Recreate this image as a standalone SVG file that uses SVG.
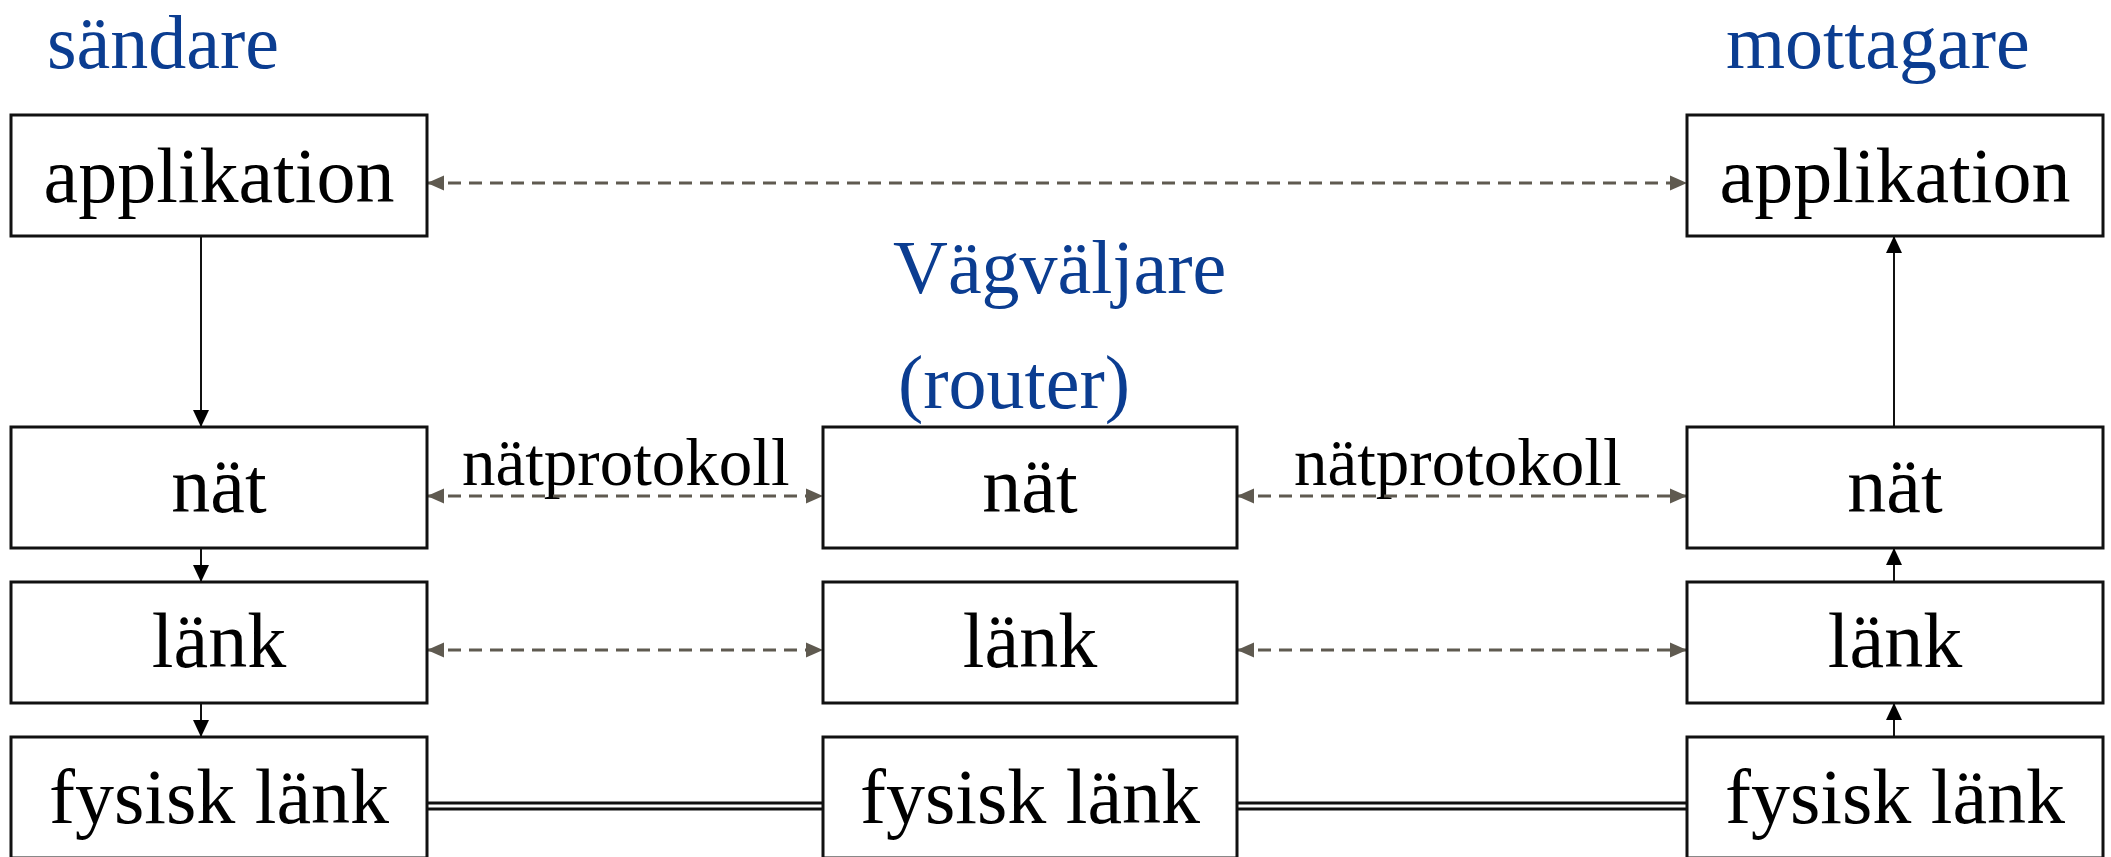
<svg xmlns="http://www.w3.org/2000/svg" width="2111" height="857" viewBox="0 0 2111 857">
<style>
.box{fill:#fff;stroke:#111;stroke-width:3}
.t{font-family:"Liberation Serif","Times New Roman",serif;font-size:78px;fill:#000;text-anchor:middle}
.lbl{font-family:"Liberation Serif","Times New Roman",serif;font-size:76px;fill:#0b3d91}
.proto{font-family:"Liberation Serif","Times New Roman",serif;font-size:67px;fill:#000}
.dash{stroke:#5f5a50;stroke-width:3;stroke-dasharray:13 8;fill:none;marker-start:url(#gs);marker-end:url(#ge)}
.solid{stroke:#111;stroke-width:2;fill:none;marker-end:url(#be)}
.dbl{stroke:#111;stroke-width:3;fill:none}
</style>
<defs>
<marker id="ge" markerUnits="userSpaceOnUse" markerWidth="18" markerHeight="16" refX="17" refY="8" orient="auto"><path d="M0,0.5 L17,8 L0,15.5 Z" fill="#5f5a50"/></marker>
<marker id="gs" markerUnits="userSpaceOnUse" markerWidth="18" markerHeight="16" refX="0" refY="8" orient="auto"><path d="M17,0.5 L0,8 L17,15.5 Z" fill="#5f5a50"/></marker>
<marker id="be" markerUnits="userSpaceOnUse" markerWidth="18" markerHeight="16" refX="17" refY="8" orient="auto"><path d="M0,0 L17,8 L0,16 Z" fill="#000"/></marker>
</defs>
<rect width="2111" height="857" fill="#fff"/>
<g id="labels">
<text class="lbl" x="47" y="68">sändare</text>
<text class="lbl" x="1726" y="68">mottagare</text>
<text class="lbl" x="893" y="293" font-size="74">Vägväljare</text>
<text class="lbl" x="898" y="408" font-size="74">(router)</text>
<text class="proto" x="462" y="485">nätprotokoll</text>
<text class="proto" x="1294" y="485">nätprotokoll</text>
</g>
<g id="connectors">
<line class="dash" x1="427" y1="183" x2="1687" y2="183"/>
<line class="dash" x1="427" y1="496" x2="823" y2="496"/>
<line class="dash" x1="1237" y1="496" x2="1687" y2="496"/>
<line class="dash" x1="427" y1="650" x2="823" y2="650"/>
<line class="dash" x1="1237" y1="650" x2="1687" y2="650"/>
<line class="solid" x1="201" y1="236" x2="201" y2="427"/>
<line class="solid" x1="201" y1="548" x2="201" y2="582"/>
<line class="solid" x1="201" y1="703" x2="201" y2="737"/>
<line class="solid" x1="1894" y1="427" x2="1894" y2="236"/>
<line class="solid" x1="1894" y1="582" x2="1894" y2="548"/>
<line class="solid" x1="1894" y1="737" x2="1894" y2="703"/>
<line class="dbl" x1="427" y1="803" x2="823" y2="803"/>
<line class="dbl" x1="427" y1="809" x2="823" y2="809"/>
<line class="dbl" x1="1237" y1="803" x2="1687" y2="803"/>
<line class="dbl" x1="1237" y1="809" x2="1687" y2="809"/>
</g>
<g id="s-app"><rect class="box" x="11" y="115" width="416" height="121"/><text class="t" x="219" y="202">applikation</text></g>
<g id="s-nat"><rect class="box" x="11" y="427" width="416" height="121"/><text class="t" x="219" y="512">nät</text></g>
<g id="s-lank"><rect class="box" x="11" y="582" width="416" height="121"/><text class="t" x="219" y="667">länk</text></g>
<g id="s-fys"><rect class="box" x="11" y="737" width="416" height="121"/><text class="t" x="219" y="823">fysisk länk</text></g>
<g id="r-nat"><rect class="box" x="823" y="427" width="414" height="121"/><text class="t" x="1030" y="512">nät</text></g>
<g id="r-lank"><rect class="box" x="823" y="582" width="414" height="121"/><text class="t" x="1030" y="667">länk</text></g>
<g id="r-fys"><rect class="box" x="823" y="737" width="414" height="121"/><text class="t" x="1030" y="823">fysisk länk</text></g>
<g id="m-app"><rect class="box" x="1687" y="115" width="416" height="121"/><text class="t" x="1895" y="202">applikation</text></g>
<g id="m-nat"><rect class="box" x="1687" y="427" width="416" height="121"/><text class="t" x="1895" y="512">nät</text></g>
<g id="m-lank"><rect class="box" x="1687" y="582" width="416" height="121"/><text class="t" x="1895" y="667">länk</text></g>
<g id="m-fys"><rect class="box" x="1687" y="737" width="416" height="121"/><text class="t" x="1895" y="823">fysisk länk</text></g>
</svg>
